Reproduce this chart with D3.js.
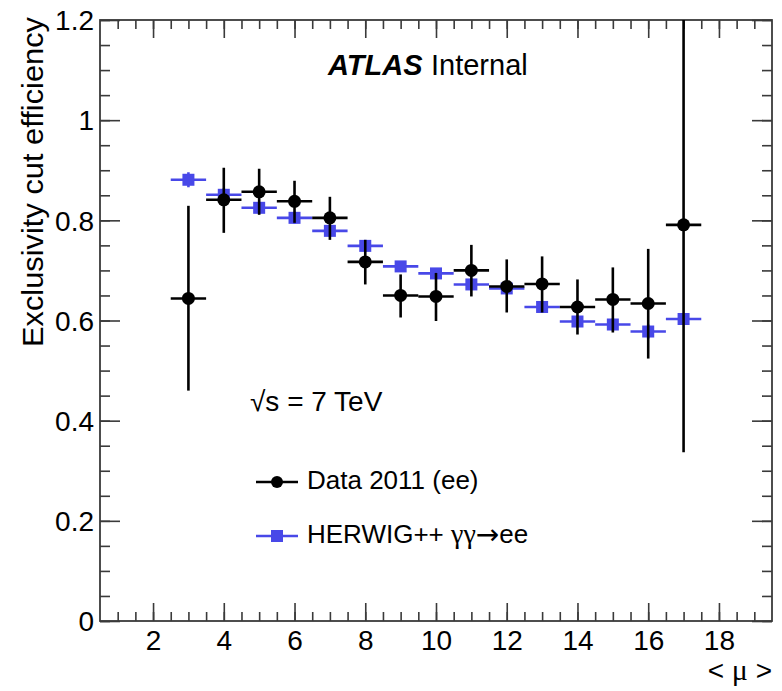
<!DOCTYPE html>
<html>
<head>
<meta charset="utf-8">
<script src="https://cdn.jsdelivr.net/npm/d3@7"></script>
<style>
  body { margin: 0; background: #fff; }
  text { font-family: "Liberation Sans", Arial, sans-serif; fill: #000; }
</style>
</head>
<body>
<div id="vis"></div>
<script>
// data (bins of <mu>, width 1)
const mu = [3, 4, 5, 6, 7, 8, 9, 10, 11, 12, 13, 14, 15, 16, 17];
const dataEff = [0.644, 0.841, 0.857, 0.838, 0.805, 0.717, 0.650, 0.648, 0.700, 0.668, 0.673, 0.627, 0.642, 0.634, 0.791];
const dataLo  = [0.460, 0.775, 0.811, 0.795, 0.761, 0.672, 0.606, 0.599, 0.648, 0.616, 0.616, 0.572, 0.576, 0.524, 0.337];
const dataHi  = [0.829, 0.905, 0.903, 0.879, 0.847, 0.761, 0.692, 0.695, 0.751, 0.722, 0.728, 0.682, 0.706, 0.743, 1.300];
const mcEff = [0.881, 0.851, 0.825, 0.805, 0.779, 0.749, 0.708, 0.694, 0.672, 0.664, 0.627, 0.598, 0.592, 0.578, 0.603];
const mcErr = [0.015, 0.013, 0.012, 0.012, 0.012, 0.012, 0.01, 0.01, 0.01, 0.01, 0.01, 0.012, 0.012, 0.014, 0.01];

const yMajor = [0, 0.2, 0.4, 0.6, 0.8, 1, 1.2];
const yMinor = d3.range(0, 1.201, 0.05);
const xMajor = [2, 4, 6, 8, 10, 12, 14, 16, 18];
const xMinor = d3.range(1, 19.01, 0.5);

const width = 782, height = 691;
const mLeft = 100, mRight = 772, mTop = 20, mBottom = 621;

const svg = d3.select("#vis").append("svg").attr("width", width).attr("height", height);

const x = d3.scaleLinear().domain([0.5, 19.5]).range([mLeft, mRight]);
const y = d3.scaleLinear().domain([0, 1.2]).range([mBottom, mTop]);

const axisCol = "#3a3a3a";
const blue = "#4848e8";

svg.append("clipPath").attr("id", "frame")
  .append("rect").attr("x", mLeft).attr("y", mTop).attr("width", mRight - mLeft).attr("height", mBottom - mTop);

// axes with inward ticks
function styleAxis(g) {
  g.select(".domain").remove();
  g.selectAll(".tick line").attr("stroke", axisCol).attr("stroke-width", 1.6);
}

svg.append("g").attr("transform", `translate(${mLeft},0)`)
  .call(d3.axisLeft(y).tickValues(yMinor).tickSize(-10).tickFormat(""))
  .call(styleAxis);
svg.append("g").attr("transform", `translate(${mLeft},0)`)
  .call(d3.axisLeft(y).tickValues(yMajor).tickSize(-20).tickPadding(6).tickFormat(d3.format("~g")))
  .call(styleAxis)
  .selectAll("text").attr("font-size", 28).attr("dy", "0.35em");

svg.append("g").attr("transform", `translate(${mRight},0)`)
  .call(d3.axisRight(y).tickValues(yMinor).tickSize(-10).tickFormat(""))
  .call(styleAxis);
svg.append("g").attr("transform", `translate(${mRight},0)`)
  .call(d3.axisRight(y).tickValues(yMajor).tickSize(-20).tickFormat(""))
  .call(styleAxis);

svg.append("g").attr("transform", `translate(0,${mBottom})`)
  .call(d3.axisBottom(x).tickValues(xMinor).tickSize(-9).tickFormat(""))
  .call(styleAxis);
svg.append("g").attr("transform", `translate(0,${mBottom})`)
  .call(d3.axisBottom(x).tickValues(xMajor).tickSize(-18).tickPadding(9).tickFormat(d3.format("d")))
  .call(styleAxis)
  .selectAll("text").attr("font-size", 28).attr("dy", "0.71em");

svg.append("g").attr("transform", `translate(0,${mTop})`)
  .call(d3.axisTop(x).tickValues(xMinor).tickSize(-9).tickFormat(""))
  .call(styleAxis);
svg.append("g").attr("transform", `translate(0,${mTop})`)
  .call(d3.axisTop(x).tickValues(xMajor).tickSize(-18).tickFormat(""))
  .call(styleAxis);

svg.append("rect")
  .attr("x", mLeft).attr("y", mTop).attr("width", mRight - mLeft).attr("height", mBottom - mTop)
  .attr("fill", "none").attr("stroke", axisCol).attr("stroke-width", 1.8);

// MC (blue squares)
const plot = svg.append("g").attr("clip-path", "url(#frame)");
const mc = mu.map((m, i) => ({ m, v: mcEff[i], e: mcErr[i] }));
const mcG = plot.selectAll(".mc").data(mc).enter().append("g");
mcG.append("line")
  .attr("x1", d => x(d.m - 0.5)).attr("x2", d => x(d.m + 0.5))
  .attr("y1", d => y(d.v)).attr("y2", d => y(d.v))
  .attr("stroke", blue).attr("stroke-width", 2.6);
mcG.append("line")
  .attr("x1", d => x(d.m)).attr("x2", d => x(d.m))
  .attr("y1", d => y(d.v - d.e)).attr("y2", d => y(d.v + d.e))
  .attr("stroke", blue).attr("stroke-width", 2.6);
mcG.append("rect")
  .attr("x", d => x(d.m) - 6).attr("y", d => y(d.v) - 6)
  .attr("width", 12).attr("height", 12).attr("fill", blue);

// data (black circles)
const dat = mu.map((m, i) => ({ m, v: dataEff[i], lo: dataLo[i], hi: dataHi[i] }));
const datG = plot.selectAll(".dat").data(dat).enter().append("g");
datG.append("line")
  .attr("x1", d => x(d.m - 0.5)).attr("x2", d => x(d.m + 0.5))
  .attr("y1", d => y(d.v)).attr("y2", d => y(d.v))
  .attr("stroke", "#000").attr("stroke-width", 2.6);
datG.append("line")
  .attr("x1", d => x(d.m)).attr("x2", d => x(d.m))
  .attr("y1", d => y(d.lo)).attr("y2", d => y(d.hi))
  .attr("stroke", "#000").attr("stroke-width", 2.6);
datG.append("circle")
  .attr("cx", d => x(d.m)).attr("cy", d => y(d.v)).attr("r", 6.5).attr("fill", "#000");

// labels
svg.append("text")
  .attr("transform", `translate(43,${mTop - 3}) rotate(-90)`)
  .attr("text-anchor", "end").attr("font-size", 29)
  .attr("textLength", 330).attr("lengthAdjust", "spacingAndGlyphs")
  .text("Exclusivity cut efficiency");

svg.append("text")
  .attr("x", mRight).attr("y", 680).attr("text-anchor", "end").attr("font-size", 28)
  .html('&lt; <tspan font-family="Liberation Serif" font-size="30">μ</tspan> &gt;');

svg.append("text").attr("x", 328).attr("y", 75).attr("font-size", 29)
  .attr("font-weight", "bold").attr("font-style", "italic").text("ATLAS");
svg.append("text").attr("x", 431).attr("y", 75).attr("font-size", 29).text("Internal");

svg.append("text").attr("x", 250).attr("y", 411).attr("font-size", 28)
  .text("√s = 7 TeV");

// legend
const legend = [
  { label: "Data 2011 (ee)", y: 482, col: "#000", shape: "circle" },
  { label: "HERWIG++ ", sym: "γγ", after: "ee", y: 536, col: blue, shape: "square" }
];
const lg = svg.selectAll(".leg").data(legend).enter().append("g");
lg.append("line").attr("x1", 256).attr("x2", 298).attr("y1", d => d.y).attr("y2", d => d.y)
  .attr("stroke", d => d.col).attr("stroke-width", 2.6);
lg.filter(d => d.shape === "circle").append("circle")
  .attr("cx", 277).attr("cy", d => d.y).attr("r", 6).attr("fill", d => d.col);
lg.filter(d => d.shape === "square").append("rect")
  .attr("x", 271).attr("y", d => d.y - 6).attr("width", 12).attr("height", 12).attr("fill", d => d.col);
const lt = lg.append("text").attr("x", 307).attr("y", d => d.y + 7).attr("font-size", 26);
lt.append("tspan").text(d => d.label);
lt.filter(d => d.sym).append("tspan").attr("font-family", "Liberation Serif").attr("font-size", 28).text(d => d.sym);
lt.filter(d => d.sym).append("tspan").attr("font-family", "DejaVu Sans").attr("font-size", 28)
  .attr("dy", 1).text("→");
lt.filter(d => d.after).append("tspan").attr("dy", -1).text(d => d.after);
</script>
</body>
</html>
